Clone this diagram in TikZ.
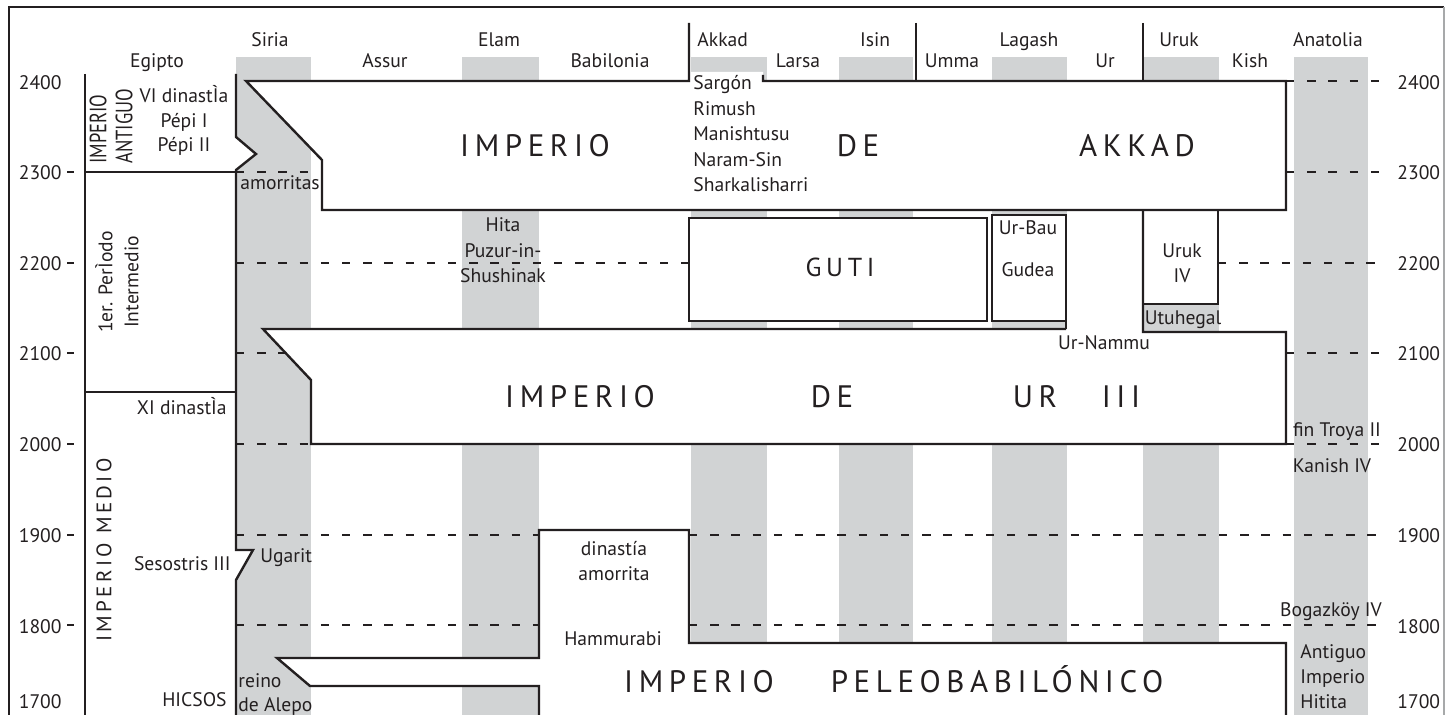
\documentclass[tikz,border=0pt]{standalone}
\usepackage{fontspec}
\setmainfont{PT Sans}
\newfontfamily\widefont[LetterSpace=18]{PT Sans}
\newfontfamily\narrowfont[FakeStretch=0.78]{PT Sans}
\newfontfamily\medspaced[LetterSpace=16]{PT Sans}
\definecolor{band}{HTML}{D1D3D4}
\definecolor{ink}{HTML}{231F20}

\begin{document}
\begin{tikzpicture}[x=0.5pt,y=-0.5pt,
  every node/.style={font=\fontsize{9.8}{12.75}\selectfont, inner sep=0pt, text=ink},
  empire/.style={font=\widefont\fontsize{15.5}{18}\selectfont},
  border/.style={draw=ink, line width=1.2pt},
  century/.style={draw=ink, line width=1.3pt, dash pattern=on 4.2pt off 6.4pt}]
\useasboundingbox (0,0) rectangle (1445,715);

% grey columns of the regions
\foreach \xa/\xb in {236/311, 462/539, 691/767, 839/913, 992/1067, 1143/1219, 1294/1368}
  \fill[band] (\xa,57) rectangle (\xb,720);

% white areas of the states
\fill[white] (246,81) -- (689,81) -- (689,72) -- (763,72) -- (763,81) -- (1286,81) -- (1286,210) -- (322,210) -- (322,160) -- cycle;
\fill[white] (236,137) -- (256,154) -- (236,170) -- cycle;
\fill[white] (236,550) -- (253,550) -- (236,580) -- cycle;
\fill[white] (689,218) rectangle (987,321);
\fill[white] (992,215) rectangle (1066,321);
\fill[white] (1143,210) rectangle (1218,304);
\fill[white] (263,329) -- (1143,329) -- (1143,332) -- (1286,332) -- (1286,444) -- (311,444) -- (311,380) -- cycle;
\fill[white] (277,658) -- (539,658) -- (539,530) -- (689,530) -- (689,643) -- (1286,643) -- (1286,720) -- (539,720) -- (539,686) -- (310,686) -- cycle;

% centuries
\foreach \yy/\xa/\xb in {81/1286/1385, 172/236/311, 172/1286/1385, 263/236/689, 263/1218/1385,
    353/236/286, 353/1286/1385, 444/236/311, 444/1286/1385, 535/236/539, 535/689/1385,
    625/236/539, 625/689/1385}
  \draw[century] (\xa,\yy) -- (\xb,\yy);
\foreach \yy in {172,263,353,444,535,625}
  \draw[ink, line width=1.2pt] (67,\yy) -- (74,\yy);

% frame
\draw[ink, line width=1pt] (9,720) -- (9,7) -- (1444,7);
\draw[band!80!black, line width=0.6pt] (1444,7) -- (1444,720);

% outlines
\draw[border] (85,74) -- (85,720);
\draw[border] (85,172) -- (236,172);
\draw[border] (85,392) -- (236,392);
\draw[border] (236,74) -- (236,137) -- (256,154) -- (236,170) -- (236,550) -- (253,550) -- (236,580) -- (236,720);
\draw[border] (689,23) -- (689,81) -- (246,81) -- (322,160) -- (322,210) -- (1286,210) -- (1286,81) -- (763,81) -- (763,75);
\draw[border] (916,23) -- (916,81);
\draw[border] (1143,23) -- (1143,81);
\draw[border] (689,218) rectangle (987,321);
\draw[border] (992,215) rectangle (1066,321);
\draw[border] (1066,321) -- (1066,329);
\draw[border] (1066,329) -- (263,329) -- (311,380) -- (311,444) -- (1286,444) -- (1286,332) -- (1143,332) -- (1143,210);
\draw[border] (1143,304) -- (1218,304) -- (1218,210);
\draw[border] (539,720) -- (539,686) -- (310,686) -- (277,658) -- (539,658) -- (539,530) -- (689,530) -- (689,643) -- (1286,643) -- (1286,720);

% years
\foreach \yy/\yr in {90/2400, 180/2300, 271/2200, 361/2100, 452/2000, 543/1900, 633/1800, 708/1700} {
  \node[anchor=base east] (l\yr) at (62,\yy) {\yr};
  \node[anchor=base west] (r\yr) at (1397,\yy) {\yr};
}

% regions
\node[anchor=base] (siria) at (270,47) {Siria};
\node[anchor=base] (elam) at (499,47) {Elam};
\node[anchor=base west] (akkad) at (697,47) {Akkad};
\node[anchor=base] (isin) at (875,47) {Isin};
\node[anchor=base] (lagash) at (1029,47) {Lagash};
\node[anchor=base] (uruk) at (1179,47) {Uruk};
\node[anchor=base] (anatolia) at (1328,47) {Anatolia};
\node[anchor=base] (egipto) at (157,68) {Egipto};
\node[anchor=base] (assur) at (385,68) {Assur};
\node[anchor=base] (babilonia) at (610,68) {Babilonia};
\node[anchor=base] (larsa) at (798,68) {Larsa};
\node[anchor=base] (umma) at (952,68) {Umma};
\node[anchor=base] (ur) at (1105,68) {Ur};
\node[anchor=base] (kish) at (1250,68) {Kish};

% Egipto
\node[rotate=90, anchor=west, align=left, font=\narrowfont\fontsize{11.8}{13}\selectfont] (antiguo) at (111,164) {IMPERIO\\ANTIGUO};
\node[anchor=base, align=center, font=\fontsize{9.8}{12.25}\selectfont] (pepi) at (184,152) {VI dinastÌa\\Pépi I\\Pépi II};
\node[rotate=90, align=center, font=\fontsize{9.8}{13}\selectfont] (primer) at (117,282) {1er. PerÌodo\\Intermedio};
\node[anchor=base east] (xidin) at (227,415) {XI dinastÌa};
\node[rotate=90, font=\medspaced\fontsize{10.5}{12}\selectfont] (medio) at (104,550) {IMPERIO MEDIO};
\node[anchor=base east] (sesostris) at (231,570) {Sesostris III};
\node[anchor=base east] (hicsos) at (227,706) {HICSOS};

% Siria
\node[anchor=base west] (amorritas) at (240,190) {amorritas};
\node[anchor=base west] (ugarit) at (260,563) {Ugarit};
\node[anchor=base west, align=left, font=\fontsize{9.8}{12}\selectfont] (alepo) at (238,711) {reino\\de Alepo};

% Akkad
\node[anchor=base] (akkadImp) at (535,157) [empire] {IMPERIO};
\node[anchor=base] (akkadDe) at (858,157) [empire] {DE};
\node[anchor=base] (akkadName) at (1137,157) [empire] {AKKAD};
\node[anchor=base west, align=left] (reyes) at (693,192) {Sargón\\Rimush\\Manishtusu\\Naram-Sin\\Sharkalisharri};

% Guti, Lagash, Uruk
\node[anchor=base, align=center] (hita) at (503,283) {Hita\\Puzur-in-\\Shushinak};
\node[anchor=base] (guti) at (840,277) [empire, font=\widefont\fontsize{13}{15}\selectfont] {GUTI};
\node[anchor=base] (urbau) at (1028,235) {Ur-Bau};
\node[anchor=base] (gudea) at (1028,277) {Gudea};
\node[anchor=base, align=center] (urukiv) at (1182,283) {Uruk\\IV};
\node[anchor=base] (utuhegal) at (1183,325) {Utuhegal};
\node[anchor=base] (urnammu) at (1104,350) {Ur-Nammu};

% Ur III
\node[anchor=base] (urImp) at (580,408) [empire] {IMPERIO};
\node[anchor=base] (urDe) at (832,408) [empire] {DE};
\node[anchor=base] (urName) at (1035,408) [empire] {UR};
\node[anchor=base] (urNum) at (1121,408) [empire] {III};

% Babilonia
\node[anchor=base, align=center] (amorrita) at (614,581) {dinastía\\amorrita};
\node[anchor=base] (hammurabi) at (613,645) {Hammurabi};
\node[anchor=base] (babImp) at (699,692) [empire] {IMPERIO};
\node[anchor=base] (babName) at (997,692) [empire] {PELEOBABILÓNICO};

% Anatolia
\node[anchor=base] (troya) at (1337,437) {fin Troya II};
\node[anchor=base] (kanish) at (1332,473) {Kanish IV};
\node[anchor=base] (bogazkoy) at (1331,617) {Bogazköy IV};
\node[anchor=base west, align=left, font=\fontsize{9.8}{12.5}\selectfont] (hitita) at (1300,708) {Antiguo\\Imperio\\Hitita};
\end{tikzpicture}
\end{document}
